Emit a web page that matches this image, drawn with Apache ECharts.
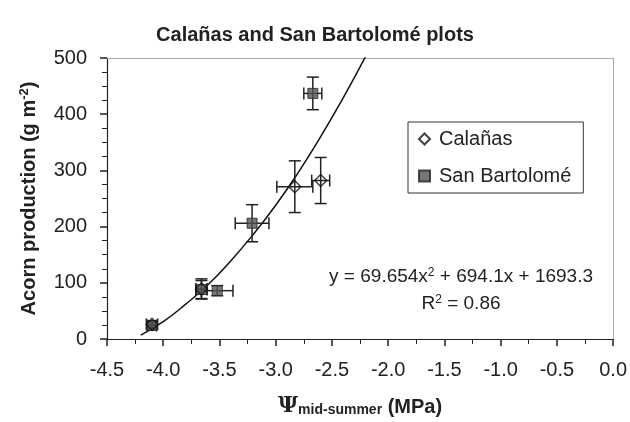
<!DOCTYPE html>
<html>
<head>
<meta charset="utf-8">
<script src="https://cdn.jsdelivr.net/npm/echarts@6/dist/echarts.min.js"></script>
<style>
  html, body { margin: 0; padding: 0; background: #fff; }
  #chart { width: 630px; height: 422px; }
</style>
</head>
<body>
<div id="chart"></div>
<script>
// Calañas plots: x, y, x error, y error
const calX = [-4.10, -3.66, -2.83, -2.60];
const calY = [26, 89, 271, 282];
const calXErr = [0.05, 0.05, 0.16, 0.08];
const calYErr = [6, 18, 46, 41];

// San Bartolomé plots
const sbX = [-4.10, -3.66, -3.52, -3.21, -2.67];
const sbY = [24, 88, 86, 206, 437];
const sbXErr = [0.04, 0.05, 0.14, 0.15, 0.08];
const sbYErr = [6, 16, 9, 33, 29];

// trend curve
const curveX = [-4.2, -4.0, -3.8, -3.6, -3.4, -3.2, -3.0, -2.8, -2.6, -2.4, -2.2];
const curveY = [7, 31, 62, 97, 139, 186, 238, 296, 360, 429, 503];

const font = 'Liberation Sans, Arial, sans-serif';
const ink = '#222';

function zip(xs, ys) { return xs.map((x, i) => [x, ys[i]]); }
function errData(xs, ys, xe, ye) { return xs.map((x, i) => [x, ys[i], xe[i], ye[i]]); }

function renderErr(params, api) {
  const x = api.value(0), y = api.value(1), xe = api.value(2), ye = api.value(3);
  const c = 6;
  const top = api.coord([x, y + ye]), bot = api.coord([x, y - ye]);
  const lft = api.coord([x - xe, y]), rgt = api.coord([x + xe, y]);
  const st = { stroke: ink, lineWidth: 1.5 };
  const ln = (x1, y1, x2, y2) => ({ type: 'line', shape: { x1, y1, x2, y2 }, style: st });
  return {
    type: 'group',
    children: [
      ln(top[0], top[1], bot[0], bot[1]),
      ln(top[0] - c, top[1], top[0] + c, top[1]),
      ln(bot[0] - c, bot[1], bot[0] + c, bot[1]),
      ln(lft[0], lft[1], rgt[0], rgt[1]),
      ln(lft[0], lft[1] - c, lft[0], lft[1] + c),
      ln(rgt[0], rgt[1] - c, rgt[0], rgt[1] + c)
    ]
  };
}

// plain grey frame on the top and right sides
const frameAxis = {
  type: 'value',
  axisLine: { show: true, onZero: false, lineStyle: { color: '#aaa', width: 1 } },
  axisTick: { show: false },
  minorTick: { show: false },
  axisLabel: { show: false },
  splitLine: { show: false },
  minorSplitLine: { show: false }
};

const supStyle = { fontFamily: font, fontSize: 12, fill: ink, padding: [0, 0, 9, 0] };

const chart = echarts.init(document.getElementById('chart'));
chart.setOption({
  animation: false,
  backgroundColor: '#fff',
  title: {
    text: 'Calañas and San Bartolomé plots',
    left: 'center',
    top: 20,
    textStyle: { fontFamily: font, fontSize: 20, fontWeight: 'bold', color: ink }
  },
  grid: { left: 107, right: 16, top: 58, bottom: 79 },
  legend: {
    left: 408,
    top: 122,
    orient: 'vertical',
    data: ['Calañas', 'San Bartolomé'],
    itemWidth: 11,
    itemHeight: 11,
    itemGap: 17,
    padding: [7, 12, 7, 10],
    borderColor: '#333',
    borderWidth: 1,
    textStyle: { fontFamily: font, fontSize: 20, color: ink, padding: [0, 0, 0, 4] }
  },
  xAxis: [{
    type: 'value',
    min: -4.5,
    max: 0,
    interval: 0.5,
    name: '{psi|Ψ}{sub|mid-summer}{b| (MPa)}',
    nameLocation: 'middle',
    nameGap: 55,
    nameTextStyle: {
      rich: {
        psi: { fontFamily: 'DejaVu Serif, serif', fontSize: 22, fontWeight: 'bold', color: ink, verticalAlign: 'bottom' },
        sub: { fontFamily: font, fontSize: 14, fontWeight: 'bold', color: ink, padding: [9, 0, 0, 0], verticalAlign: 'bottom' },
        b: { fontFamily: font, fontSize: 20, fontWeight: 'bold', color: ink, verticalAlign: 'bottom' }
      }
    },
    axisLine: { onZero: false, lineStyle: { color: ink, width: 1.2 } },
    axisTick: { length: 7, lineStyle: { color: ink, width: 1.5 } },
    minorTick: { show: true, splitNumber: 2, length: 5, lineStyle: { color: ink, width: 1 } },
    axisLabel: { fontFamily: font, fontSize: 20, color: ink, margin: 21, formatter: v => v.toFixed(1) },
    splitLine: { show: false }
  }, Object.assign({ position: 'top', min: -4.5, max: 0, interval: 0.5 }, frameAxis)],
  yAxis: [{
    type: 'value',
    position: 'left',
    min: 0,
    max: 500,
    interval: 100,
    name: 'Acorn production (g m{sup|-2})',
    nameLocation: 'middle',
    nameGap: 67,
    nameTextStyle: {
      fontFamily: font, fontSize: 20, fontWeight: 'bold', color: ink,
      rich: { sup: { fontFamily: font, fontSize: 13, fontWeight: 'bold', color: ink, padding: [0, 0, 9, 0] } }
    },
    axisLine: { show: true, onZero: false, lineStyle: { color: ink, width: 1.2 } },
    axisTick: { length: 7, lineStyle: { color: ink, width: 1.5 } },
    minorTick: { show: true, splitNumber: 4, length: 5, lineStyle: { color: ink, width: 1 } },
    axisLabel: { fontFamily: font, fontSize: 20, color: ink, margin: 20 },
    splitLine: { show: false }
  }, Object.assign({ position: 'right', min: 0, max: 500, interval: 100 }, frameAxis)],
  graphic: [
    {
      type: 'text',
      x: 593,
      y: 277,
      style: {
        text: 'y = 69.654x{sup|2} + 694.1x + 1693.3',
        align: 'right',
        verticalAlign: 'middle',
        fontFamily: font, fontSize: 19, fill: ink,
        rich: { sup: supStyle }
      }
    },
    {
      type: 'text',
      x: 461,
      y: 304,
      style: {
        text: 'R{sup|2} = 0.86',
        align: 'center',
        verticalAlign: 'middle',
        fontFamily: font, fontSize: 19, fill: ink,
        rich: { sup: supStyle }
      }
    }
  ],
  series: [
    {
      name: 'trend',
      type: 'line',
      data: zip(curveX, curveY),
      smooth: true,
      showSymbol: false,
      lineStyle: { color: '#111', width: 1.5 },
      z: 1
    },
    {
      type: 'custom',
      renderItem: renderErr,
      data: errData(calX, calY, calXErr, calYErr),
      z: 2
    },
    {
      type: 'custom',
      renderItem: renderErr,
      data: errData(sbX, sbY, sbXErr, sbYErr),
      z: 2
    },
    {
      name: 'San Bartolomé',
      type: 'scatter',
      symbol: 'rect',
      symbolSize: 10,
      data: zip(sbX, sbY),
      itemStyle: { color: '#555', borderColor: ink, borderWidth: 1 },
      z: 3
    },
    {
      name: 'Calañas',
      type: 'scatter',
      symbol: 'diamond',
      symbolSize: 12,
      data: zip(calX, calY),
      itemStyle: { color: 'rgba(255,255,255,0)', borderColor: '#111', borderWidth: 1.5 },
      z: 4
    }
  ]
});
</script>
</body>
</html>
